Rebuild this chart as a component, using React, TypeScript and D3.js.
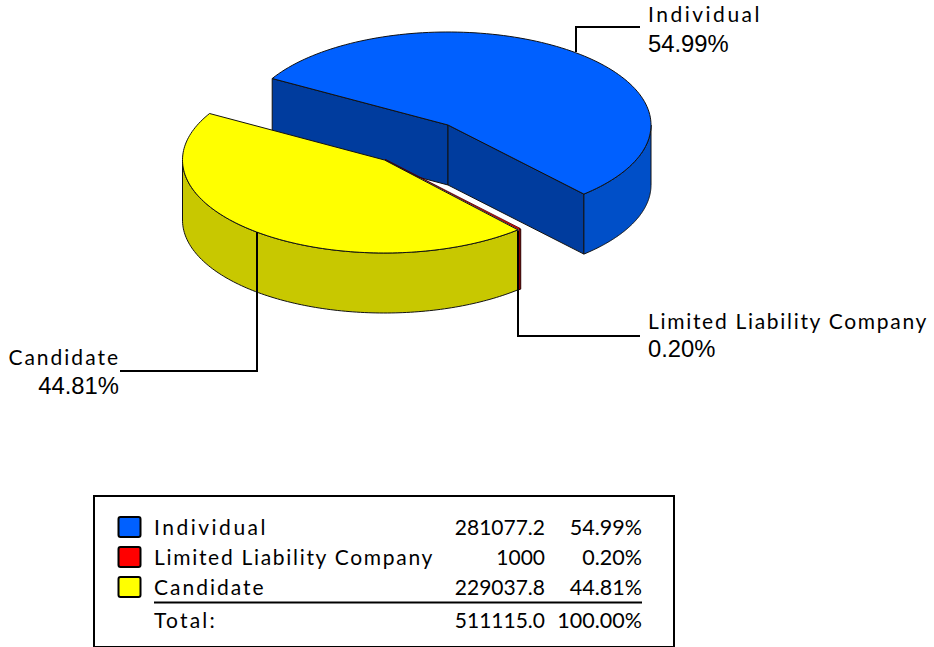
import React from "react";
import * as d3 from "d3";

const categories = ["Individual", "Limited Liability Company", "Candidate"];
const values = [281077.2, 1000, 229037.8];
const valueLabels = ["281077.2", "1000", "229037.8"];
const percentLabels = ["54.99%", "0.20%", "44.81%"];
const totalLabels = ["Total:", "511115.0", "100.00%"];
const topColors = ["#0060ff", "#ff0000", "#ffff00"];
const wallColors = ["#003c9e", "#9e0000", "#9e9e00"];
const outerColors = ["#004fc8", "#c80000", "#c8c800"];

const W = 934, H = 647;
const RY = 93, DEPTH = 60;
const radiiX = [203, 202, 202];
const centers: [number, number][] = [[448, 125], [384.5, 160], [384.5, 160]];

const rad = (d: number) => (d * Math.PI) / 180;
const pie = d3.pie<number>().sort(null).startAngle(rad(-60)).endAngle(rad(300));
const arcs = pie(values);

const pt = (i: number, a: number, dy = 0): [number, number] => [
  centers[i][0] + radiiX[i] * Math.sin(a),
  centers[i][1] - RY * Math.cos(a) + dy,
];
const line = d3.line<[number, number]>();
const sample = (i: number, a0: number, a1: number, dy = 0) =>
  d3.range(0, 121).map((k) => pt(i, a0 + ((a1 - a0) * k) / 120, dy));

function topPath(i: number) {
  return line([centers[i], ...sample(i, arcs[i].startAngle, arcs[i].endAngle)])! + "Z";
}
function outerPath(i: number) {
  // the visible part of the rim lies on the near half of the ellipse
  const a0 = Math.max(arcs[i].startAngle, rad(90));
  const a1 = Math.min(arcs[i].endAngle, rad(270));
  if (a1 <= a0) return null;
  return line([...sample(i, a0, a1), ...sample(i, a1, a0, DEPTH)])! + "Z";
}
function wallPath(i: number, a: number) {
  const c = centers[i];
  const p = pt(i, a);
  return line([c, p, [p[0], p[1] + DEPTH], [c[0], c[1] + DEPTH]])! + "Z";
}

const stroke = "#111";
const lato = "Lato, sans-serif";
const arial = "'Liberation Sans', Arial, sans-serif";

const legendRows = [525, 555, 585];
const legendSpacing = [2.5, 1.7, 2.0];

export default function App() {
  return (
    <svg
      width={W}
      height={H}
      viewBox={`0 0 ${W} ${H}`}
      style={{ position: "absolute", left: 0, top: 0, background: "#fff" }}
    >
      {/* blue slice */}
      <path d={wallPath(0, arcs[0].startAngle)} fill={wallColors[0]} stroke={stroke} strokeWidth={1} />
      <path d={wallPath(0, arcs[0].endAngle)} fill={wallColors[0]} stroke={stroke} strokeWidth={1} />
      <path d={outerPath(0)!} fill={outerColors[0]} stroke={stroke} strokeWidth={1} />
      <path d={topPath(0)} fill={topColors[0]} stroke={stroke} strokeWidth={1} />

      {/* red sliver, then yellow slice */}
      <path d={outerPath(1)!} fill={outerColors[1]} stroke="#200" strokeWidth={1} transform="translate(1,0)" />
      <path d={topPath(1)} fill={topColors[1]} stroke="#400" strokeWidth={0.8} transform="translate(0.6,-0.6)" />
      <path d={outerPath(2)!} fill={outerColors[2]} stroke={stroke} strokeWidth={1} />
      <path d={topPath(2)} fill={topColors[2]} stroke={stroke} strokeWidth={1} />

      {/* leaders */}
      <g fill="none" stroke="#000" strokeWidth={2}>
        <path d="M576,52V27H640" />
        <path d="M518,231V336H640" />
        <path d="M257,232V371H120" />
      </g>

      {/* callouts */}
      <g fill="#000">
        <text x={648} y={22} fontFamily={lato} fontSize={21} letterSpacing={2.5}>{categories[0]}</text>
        <text x={648} y={52} fontFamily={arial} fontSize={23.8}>{percentLabels[0]}</text>
        <text x={648} y={329} fontFamily={lato} fontSize={21} letterSpacing={1.7}>{categories[1]}</text>
        <text x={648} y={357} fontFamily={arial} fontSize={23.8}>{percentLabels[1]}</text>
        <text x={120} y={365} textAnchor="end" fontFamily={lato} fontSize={21} letterSpacing={2.0}>{categories[2]}</text>
        <text x={119} y={394} textAnchor="end" fontFamily={arial} fontSize={23.8}>{percentLabels[2]}</text>
      </g>

      {/* legend */}
      <rect x={94} y={496} width={580} height={151} fill="#fff" stroke="#000" strokeWidth={2} />
      {categories.map((c, i) => (
        <g key={c}>
          <rect x={118.5} y={legendRows[i] - 8} width={22} height={20} rx={2} fill={topColors[i]} stroke="#000" strokeWidth={2} />
          <text x={154} y={legendRows[i] + 10} fontFamily={lato} fontSize={21} letterSpacing={legendSpacing[i]}>{c}</text>
          <text x={545} y={legendRows[i] + 10} textAnchor="end" fontFamily={lato} fontSize={21}>{valueLabels[i]}</text>
          <text x={642} y={legendRows[i] + 10} textAnchor="end" fontFamily={lato} fontSize={21.5}>{percentLabels[i]}</text>
        </g>
      ))}
      <line x1={154} x2={642} y1={602.5} y2={602.5} stroke="#000" strokeWidth={2} />
      <text x={154} y={628} fontFamily={lato} fontSize={21} letterSpacing={2.2}>{totalLabels[0]}</text>
      <text x={545} y={628} textAnchor="end" fontFamily={lato} fontSize={21}>{totalLabels[1]}</text>
      <text x={642} y={628} textAnchor="end" fontFamily={lato} fontSize={21.5}>{totalLabels[2]}</text>
    </svg>
  );
}
